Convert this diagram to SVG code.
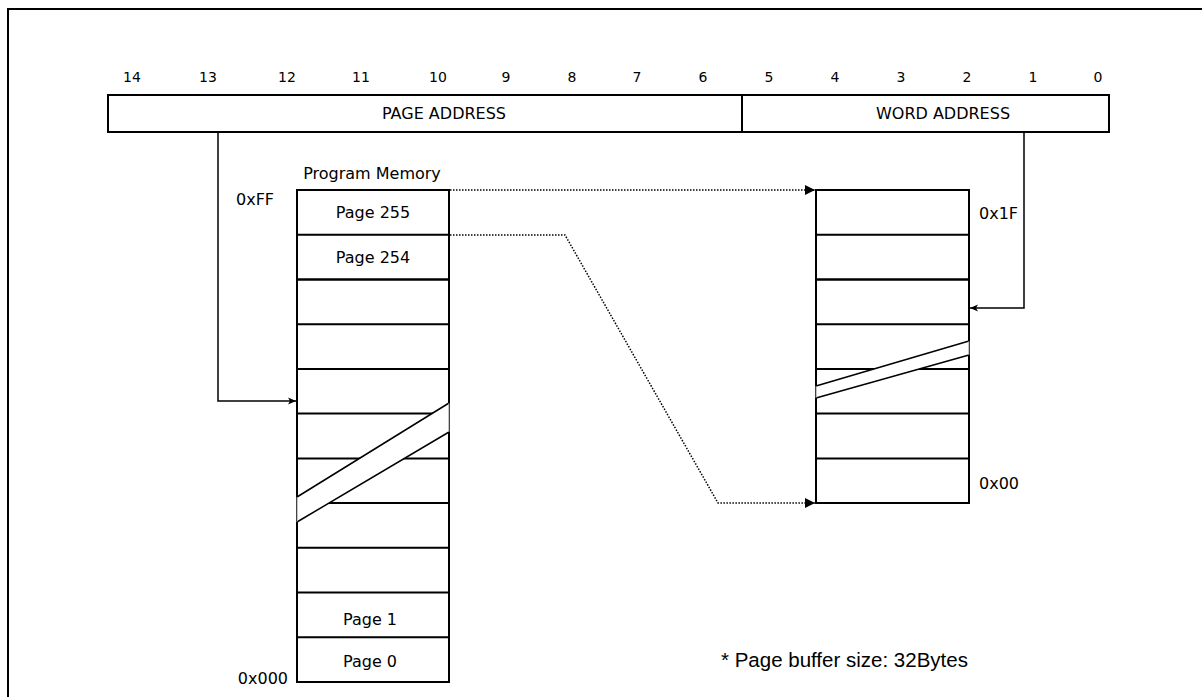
<svg xmlns="http://www.w3.org/2000/svg" width="1202" height="697" viewBox="0 0 1202 697">
<style>
.t{font-family:"DejaVu Sans","Liberation Sans",sans-serif;font-size:16px;fill:#000}
.b{font-family:"DejaVu Sans","Liberation Sans",sans-serif;font-size:14px;fill:#000;text-anchor:middle}
.m{text-anchor:middle}
.ln{stroke:#000;stroke-width:2;fill:none}
.th{stroke:#000;stroke-width:1.5;fill:none}
.sh{stroke:#888;stroke-width:1;fill:none}
.dot{stroke:#000;stroke-width:1.5;fill:none;stroke-dasharray:1.5 1.5}
.con{stroke:#000;stroke-width:1.5;fill:none}
</style>
<defs>
<marker id="ah" markerUnits="userSpaceOnUse" markerWidth="12" markerHeight="10" refX="10" refY="5" orient="auto">
<path d="M0,0 L10,5 L0,10 Z" fill="#000"/>
</marker>
<marker id="as" markerUnits="userSpaceOnUse" markerWidth="10" markerHeight="8" refX="8" refY="4" orient="auto">
<path d="M0,0.5 L8,4 L0,7.5 L2,4 Z" fill="#000"/>
</marker>
</defs>
<rect width="1202" height="697" fill="#fff"/>
<path class="ln" d="M8,697 V9 H1202"/>

<g id="register">
<rect class="ln" x="108" y="95" width="1001" height="37"/>
<line class="ln" x1="742" y1="95" x2="742" y2="132"/>
<text class="t m" x="444" y="119">PAGE ADDRESS</text>
<text class="t m" x="943" y="119">WORD ADDRESS</text>
<g class="b">
<text x="132" y="82">14</text><text x="208" y="82">13</text><text x="287" y="82">12</text>
<text x="361" y="82">11</text><text x="438" y="82">10</text><text x="506" y="82">9</text>
<text x="572" y="82">8</text><text x="637" y="82">7</text><text x="703" y="82">6</text>
<text x="769" y="82">5</text><text x="835" y="82">4</text><text x="901" y="82">3</text>
<text x="967" y="82">2</text><text x="1033" y="82">1</text><text x="1098" y="82">0</text>
</g>
</g>

<g id="program-memory">
<text class="t m" x="372" y="179">Program Memory</text>
<text class="t" x="236" y="205">0xFF</text>
<text class="t" x="288" y="684" text-anchor="end">0x000</text>
<line class="ln" x1="297" y1="190" x2="297" y2="682"/>
<line class="ln" x1="449" y1="190" x2="449" y2="682"/>
<g class="ln">
<line x1="296" y1="190" x2="450" y2="190"/>
<line x1="296" y1="234.7" x2="450" y2="234.7"/>
<line x1="296" y1="279.5" x2="450" y2="279.5" stroke-width="2.5"/>
<line x1="296" y1="324.2" x2="450" y2="324.2"/>
<line x1="296" y1="368.9" x2="450" y2="368.9"/>
<line x1="296" y1="413.6" x2="450" y2="413.6"/>
<line x1="296" y1="458.4" x2="450" y2="458.4"/>
<line x1="296" y1="503.1" x2="450" y2="503.1"/>
<line x1="296" y1="547.8" x2="450" y2="547.8"/>
<line x1="296" y1="592.6" x2="450" y2="592.6"/>
<line x1="296" y1="637.3" x2="450" y2="637.3"/>
<line x1="296" y1="682" x2="450" y2="682"/>
</g>
<polygon points="297,497 449,403 449,432 297,522" fill="#fff"/>
<line class="th" x1="297" y1="497" x2="449" y2="403"/>
<line class="th" x1="297" y1="522" x2="449" y2="432"/>
<line class="sh" x1="297" y1="497" x2="297" y2="522"/>
<line class="sh" x1="449" y1="403" x2="449" y2="432"/>
<text class="t m" x="373" y="218">Page 255</text>
<text class="t m" x="373" y="263">Page 254</text>
<text class="t m" x="370" y="625">Page 1</text>
<text class="t m" x="370" y="667">Page 0</text>
</g>

<g id="page-buffer">
<line class="ln" x1="816" y1="190" x2="816" y2="503"/>
<line class="ln" x1="969" y1="190" x2="969" y2="503"/>
<g class="ln">
<line x1="815" y1="190" x2="970" y2="190"/>
<line x1="815" y1="234.7" x2="970" y2="234.7"/>
<line x1="815" y1="279.5" x2="970" y2="279.5" stroke-width="2.5"/>
<line x1="815" y1="324.2" x2="970" y2="324.2"/>
<line x1="815" y1="368.9" x2="970" y2="368.9"/>
<line x1="815" y1="413.6" x2="970" y2="413.6"/>
<line x1="815" y1="458.4" x2="970" y2="458.4"/>
<line x1="815" y1="503.1" x2="970" y2="503.1"/>
</g>
<polygon points="816,386 969,341 969,355 816,398" fill="#fff"/>
<line class="th" x1="816" y1="386" x2="969" y2="341"/>
<line class="th" x1="816" y1="398" x2="969" y2="355"/>
<line class="sh" x1="816" y1="386" x2="816" y2="398"/>
<line class="sh" x1="969" y1="341" x2="969" y2="355"/>
<text class="t" x="979" y="219">0x1F</text>
<text class="t" x="979" y="489">0x00</text>
</g>

<g id="connectors">
<polyline class="con" points="218,132 218,401 296,401" marker-end="url(#as)"/>
<polyline class="con" points="1024,132 1024,308 970,308" marker-end="url(#as)"/>
<polyline class="dot" points="450,190 815,190" marker-end="url(#ah)"/>
<polyline class="dot" points="450,235 565,235 718,503 815,503" marker-end="url(#ah)"/>
</g>

<text x="721" y="667" font-family="Liberation Sans, Arial, sans-serif" font-size="20.5" fill="#000">* Page buffer size: 32Bytes</text>
</svg>
